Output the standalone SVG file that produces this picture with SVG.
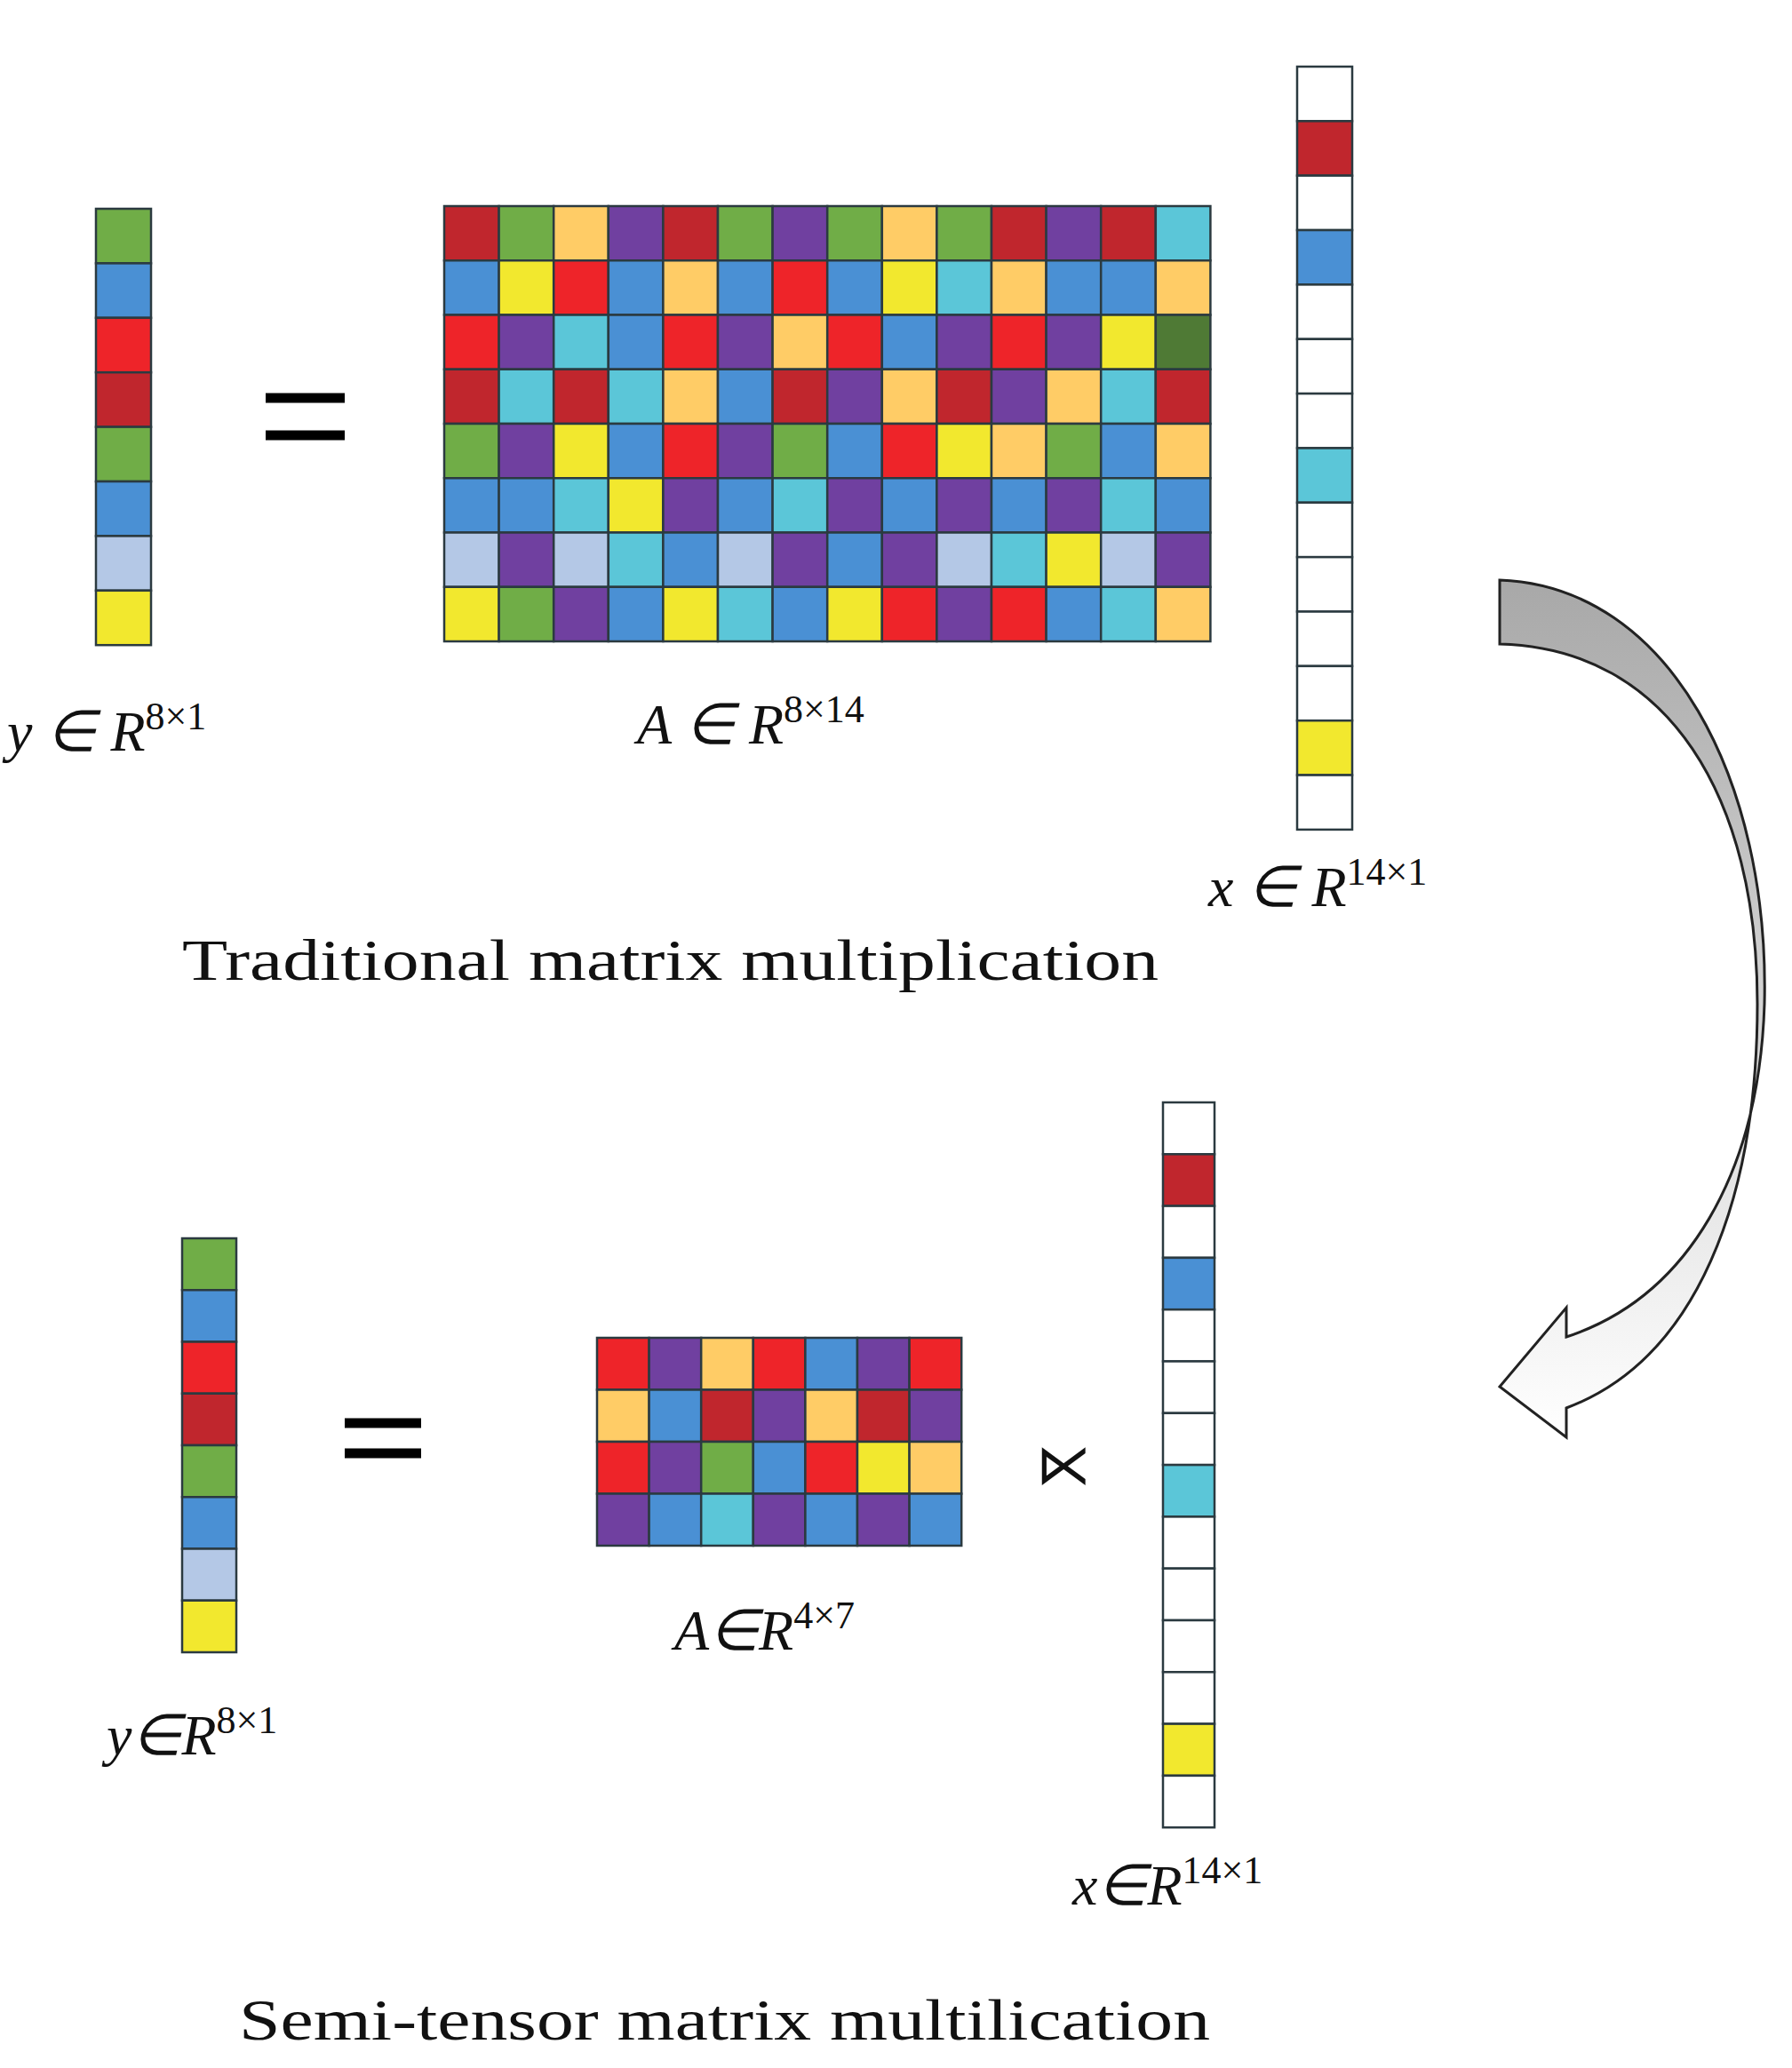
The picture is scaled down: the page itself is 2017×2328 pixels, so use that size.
<svg xmlns="http://www.w3.org/2000/svg" width="2017" height="2328" viewBox="0 0 2017 2328">
<style>
rect{stroke:#2b3a40;stroke-width:2.5}
.R{fill:#C0262D}.G{fill:#70AD47}.P{fill:#FFCC66}.U{fill:#7040A0}.r{fill:#EE2429}.B{fill:#4A90D4}.Y{fill:#F2E82E}.C{fill:#5BC6D8}.L{fill:#B4C8E6}.D{fill:#4F7A35}.W{fill:#fff}
.t{font-family:"Liberation Serif",serif;fill:#111}
.m{font-family:"Liberation Serif",serif;font-style:italic;fill:#111;font-size:64px}
.s{font-family:"Liberation Serif",serif;font-size:44px}
.eq{stroke:#000;stroke-width:11}
</style>
<defs><linearGradient id="ag" x1="0" y1="0" x2="0" y2="1"><stop offset="0" stop-color="#a8a8a8"/><stop offset="1" stop-color="#ffffff"/></linearGradient></defs>
<rect width="2017" height="2328" fill="#fff" style="stroke:none"/>
<g id="y-top">
<rect x="108" y="235" width="62" height="61.4" class="G"/><rect x="108" y="296.4" width="62" height="61.4" class="B"/><rect x="108" y="357.8" width="62" height="61.4" class="r"/><rect x="108" y="419.2" width="62" height="61.4" class="R"/><rect x="108" y="480.6" width="62" height="61.4" class="G"/><rect x="108" y="542" width="62" height="61.4" class="B"/><rect x="108" y="603.4" width="62" height="61.4" class="L"/><rect x="108" y="664.8" width="62" height="61.4" class="Y"/>
</g>
<g id="eq-top"><line x1="299" y1="448" x2="388" y2="448" class="eq"/><line x1="299" y1="490" x2="388" y2="490" class="eq"/></g>
<g id="A-top">
<g transform="translate(0,232)">
<rect x="500" width="61.6" height="61.25" class="R"/><rect x="561.6" width="61.6" height="61.25" class="G"/><rect x="623.2" width="61.6" height="61.25" class="P"/><rect x="684.8" width="61.6" height="61.25" class="U"/><rect x="746.4" width="61.6" height="61.25" class="R"/><rect x="808" width="61.6" height="61.25" class="G"/><rect x="869.6" width="61.6" height="61.25" class="U"/><rect x="931.2" width="61.6" height="61.25" class="G"/><rect x="992.8" width="61.6" height="61.25" class="P"/><rect x="1054.4" width="61.6" height="61.25" class="G"/><rect x="1116" width="61.6" height="61.25" class="R"/><rect x="1177.6" width="61.6" height="61.25" class="U"/><rect x="1239.2" width="61.6" height="61.25" class="R"/><rect x="1300.8" width="61.6" height="61.25" class="C"/></g>
<g transform="translate(0,293.25)">
<rect x="500" width="61.6" height="61.25" class="B"/><rect x="561.6" width="61.6" height="61.25" class="Y"/><rect x="623.2" width="61.6" height="61.25" class="r"/><rect x="684.8" width="61.6" height="61.25" class="B"/><rect x="746.4" width="61.6" height="61.25" class="P"/><rect x="808" width="61.6" height="61.25" class="B"/><rect x="869.6" width="61.6" height="61.25" class="r"/><rect x="931.2" width="61.6" height="61.25" class="B"/><rect x="992.8" width="61.6" height="61.25" class="Y"/><rect x="1054.4" width="61.6" height="61.25" class="C"/><rect x="1116" width="61.6" height="61.25" class="P"/><rect x="1177.6" width="61.6" height="61.25" class="B"/><rect x="1239.2" width="61.6" height="61.25" class="B"/><rect x="1300.8" width="61.6" height="61.25" class="P"/></g>
<g transform="translate(0,354.5)">
<rect x="500" width="61.6" height="61.25" class="r"/><rect x="561.6" width="61.6" height="61.25" class="U"/><rect x="623.2" width="61.6" height="61.25" class="C"/><rect x="684.8" width="61.6" height="61.25" class="B"/><rect x="746.4" width="61.6" height="61.25" class="r"/><rect x="808" width="61.6" height="61.25" class="U"/><rect x="869.6" width="61.6" height="61.25" class="P"/><rect x="931.2" width="61.6" height="61.25" class="r"/><rect x="992.8" width="61.6" height="61.25" class="B"/><rect x="1054.4" width="61.6" height="61.25" class="U"/><rect x="1116" width="61.6" height="61.25" class="r"/><rect x="1177.6" width="61.6" height="61.25" class="U"/><rect x="1239.2" width="61.6" height="61.25" class="Y"/><rect x="1300.8" width="61.6" height="61.25" class="D"/></g>
<g transform="translate(0,415.75)">
<rect x="500" width="61.6" height="61.25" class="R"/><rect x="561.6" width="61.6" height="61.25" class="C"/><rect x="623.2" width="61.6" height="61.25" class="R"/><rect x="684.8" width="61.6" height="61.25" class="C"/><rect x="746.4" width="61.6" height="61.25" class="P"/><rect x="808" width="61.6" height="61.25" class="B"/><rect x="869.6" width="61.6" height="61.25" class="R"/><rect x="931.2" width="61.6" height="61.25" class="U"/><rect x="992.8" width="61.6" height="61.25" class="P"/><rect x="1054.4" width="61.6" height="61.25" class="R"/><rect x="1116" width="61.6" height="61.25" class="U"/><rect x="1177.6" width="61.6" height="61.25" class="P"/><rect x="1239.2" width="61.6" height="61.25" class="C"/><rect x="1300.8" width="61.6" height="61.25" class="R"/></g>
<g transform="translate(0,477)">
<rect x="500" width="61.6" height="61.25" class="G"/><rect x="561.6" width="61.6" height="61.25" class="U"/><rect x="623.2" width="61.6" height="61.25" class="Y"/><rect x="684.8" width="61.6" height="61.25" class="B"/><rect x="746.4" width="61.6" height="61.25" class="r"/><rect x="808" width="61.6" height="61.25" class="U"/><rect x="869.6" width="61.6" height="61.25" class="G"/><rect x="931.2" width="61.6" height="61.25" class="B"/><rect x="992.8" width="61.6" height="61.25" class="r"/><rect x="1054.4" width="61.6" height="61.25" class="Y"/><rect x="1116" width="61.6" height="61.25" class="P"/><rect x="1177.6" width="61.6" height="61.25" class="G"/><rect x="1239.2" width="61.6" height="61.25" class="B"/><rect x="1300.8" width="61.6" height="61.25" class="P"/></g>
<g transform="translate(0,538.25)">
<rect x="500" width="61.6" height="61.25" class="B"/><rect x="561.6" width="61.6" height="61.25" class="B"/><rect x="623.2" width="61.6" height="61.25" class="C"/><rect x="684.8" width="61.6" height="61.25" class="Y"/><rect x="746.4" width="61.6" height="61.25" class="U"/><rect x="808" width="61.6" height="61.25" class="B"/><rect x="869.6" width="61.6" height="61.25" class="C"/><rect x="931.2" width="61.6" height="61.25" class="U"/><rect x="992.8" width="61.6" height="61.25" class="B"/><rect x="1054.4" width="61.6" height="61.25" class="U"/><rect x="1116" width="61.6" height="61.25" class="B"/><rect x="1177.6" width="61.6" height="61.25" class="U"/><rect x="1239.2" width="61.6" height="61.25" class="C"/><rect x="1300.8" width="61.6" height="61.25" class="B"/></g>
<g transform="translate(0,599.5)">
<rect x="500" width="61.6" height="61.25" class="L"/><rect x="561.6" width="61.6" height="61.25" class="U"/><rect x="623.2" width="61.6" height="61.25" class="L"/><rect x="684.8" width="61.6" height="61.25" class="C"/><rect x="746.4" width="61.6" height="61.25" class="B"/><rect x="808" width="61.6" height="61.25" class="L"/><rect x="869.6" width="61.6" height="61.25" class="U"/><rect x="931.2" width="61.6" height="61.25" class="B"/><rect x="992.8" width="61.6" height="61.25" class="U"/><rect x="1054.4" width="61.6" height="61.25" class="L"/><rect x="1116" width="61.6" height="61.25" class="C"/><rect x="1177.6" width="61.6" height="61.25" class="Y"/><rect x="1239.2" width="61.6" height="61.25" class="L"/><rect x="1300.8" width="61.6" height="61.25" class="U"/></g>
<g transform="translate(0,660.75)">
<rect x="500" width="61.6" height="61.25" class="Y"/><rect x="561.6" width="61.6" height="61.25" class="G"/><rect x="623.2" width="61.6" height="61.25" class="U"/><rect x="684.8" width="61.6" height="61.25" class="B"/><rect x="746.4" width="61.6" height="61.25" class="Y"/><rect x="808" width="61.6" height="61.25" class="C"/><rect x="869.6" width="61.6" height="61.25" class="B"/><rect x="931.2" width="61.6" height="61.25" class="Y"/><rect x="992.8" width="61.6" height="61.25" class="r"/><rect x="1054.4" width="61.6" height="61.25" class="U"/><rect x="1116" width="61.6" height="61.25" class="r"/><rect x="1177.6" width="61.6" height="61.25" class="B"/><rect x="1239.2" width="61.6" height="61.25" class="C"/><rect x="1300.8" width="61.6" height="61.25" class="P"/></g>
</g>
<g id="x-top">
<rect x="1460" y="75" width="62" height="61.35" class="W"/><rect x="1460" y="136.35" width="62" height="61.35" class="R"/><rect x="1460" y="197.7" width="62" height="61.35" class="W"/><rect x="1460" y="259.05" width="62" height="61.35" class="B"/><rect x="1460" y="320.4" width="62" height="61.35" class="W"/><rect x="1460" y="381.75" width="62" height="61.35" class="W"/><rect x="1460" y="443.1" width="62" height="61.35" class="W"/><rect x="1460" y="504.45" width="62" height="61.35" class="C"/><rect x="1460" y="565.8" width="62" height="61.35" class="W"/><rect x="1460" y="627.15" width="62" height="61.35" class="W"/><rect x="1460" y="688.5" width="62" height="61.35" class="W"/><rect x="1460" y="749.85" width="62" height="61.35" class="W"/><rect x="1460" y="811.2" width="62" height="61.35" class="Y"/><rect x="1460" y="872.55" width="62" height="61.35" class="W"/>
</g>
<g id="labels-top">
<text x="8" y="845" class="m">y ∈ R<tspan class="s" dy="-24" font-style="normal">8×1</tspan></text>
<text x="717" y="837" class="m">A ∈ R<tspan class="s" dy="-24" font-style="normal">8×14</tspan></text>
<text x="1360" y="1020" class="m">x ∈ R<tspan class="s" dy="-24" font-style="normal">14×1</tspan></text>
<text x="205" y="1103" class="t" font-size="66" textLength="1099" lengthAdjust="spacingAndGlyphs">Traditional matrix multiplication</text>
</g>
<g id="connectors">
<path d="M1688,653 C1880,660 1992,880 1986,1130 C1980,1320 1900,1460 1763,1505 L1763,1472 L1688,1561 L1763,1618 L1763,1585 C1910,1530 1978,1350 1978,1130 C1978,900 1880,730 1688,725 Z" fill="url(#ag)" stroke="#222" stroke-width="3" stroke-linejoin="miter"/>
</g>
<g id="y-bottom">
<rect x="205" y="1394" width="61" height="58.25" class="G"/><rect x="205" y="1452.25" width="61" height="58.25" class="B"/><rect x="205" y="1510.5" width="61" height="58.25" class="r"/><rect x="205" y="1568.75" width="61" height="58.25" class="R"/><rect x="205" y="1627" width="61" height="58.25" class="G"/><rect x="205" y="1685.25" width="61" height="58.25" class="B"/><rect x="205" y="1743.5" width="61" height="58.25" class="L"/><rect x="205" y="1801.75" width="61" height="58.25" class="Y"/>
</g>
<g id="eq-bottom"><line x1="388" y1="1602" x2="474" y2="1602" class="eq"/><line x1="388" y1="1636" x2="474" y2="1636" class="eq"/></g>
<g id="A-bottom">
<g transform="translate(0,1506)"><rect x="672" width="58.6" height="58.5" class="r"/><rect x="730.6" width="58.6" height="58.5" class="U"/><rect x="789.2" width="58.6" height="58.5" class="P"/><rect x="847.8" width="58.6" height="58.5" class="r"/><rect x="906.4" width="58.6" height="58.5" class="B"/><rect x="965" width="58.6" height="58.5" class="U"/><rect x="1023.6" width="58.6" height="58.5" class="r"/></g>
<g transform="translate(0,1564.5)"><rect x="672" width="58.6" height="58.5" class="P"/><rect x="730.6" width="58.6" height="58.5" class="B"/><rect x="789.2" width="58.6" height="58.5" class="R"/><rect x="847.8" width="58.6" height="58.5" class="U"/><rect x="906.4" width="58.6" height="58.5" class="P"/><rect x="965" width="58.6" height="58.5" class="R"/><rect x="1023.6" width="58.6" height="58.5" class="U"/></g>
<g transform="translate(0,1623)"><rect x="672" width="58.6" height="58.5" class="r"/><rect x="730.6" width="58.6" height="58.5" class="U"/><rect x="789.2" width="58.6" height="58.5" class="G"/><rect x="847.8" width="58.6" height="58.5" class="B"/><rect x="906.4" width="58.6" height="58.5" class="r"/><rect x="965" width="58.6" height="58.5" class="Y"/><rect x="1023.6" width="58.6" height="58.5" class="P"/></g>
<g transform="translate(0,1681.5)"><rect x="672" width="58.6" height="58.5" class="U"/><rect x="730.6" width="58.6" height="58.5" class="B"/><rect x="789.2" width="58.6" height="58.5" class="C"/><rect x="847.8" width="58.6" height="58.5" class="U"/><rect x="906.4" width="58.6" height="58.5" class="B"/><rect x="965" width="58.6" height="58.5" class="U"/><rect x="1023.6" width="58.6" height="58.5" class="B"/></g>
</g>
<g id="stp-op"><text x="1197" y="1670" font-family="DejaVu Sans,sans-serif" font-size="62" text-anchor="middle" fill="#111">⋉</text></g>
<g id="x-bottom">
<rect x="1309" y="1241" width="58" height="58.3" class="W"/><rect x="1309" y="1299.3" width="58" height="58.3" class="R"/><rect x="1309" y="1357.6" width="58" height="58.3" class="W"/><rect x="1309" y="1415.9" width="58" height="58.3" class="B"/><rect x="1309" y="1474.2" width="58" height="58.3" class="W"/><rect x="1309" y="1532.5" width="58" height="58.3" class="W"/><rect x="1309" y="1590.8" width="58" height="58.3" class="W"/><rect x="1309" y="1649.1" width="58" height="58.3" class="C"/><rect x="1309" y="1707.4" width="58" height="58.3" class="W"/><rect x="1309" y="1765.7" width="58" height="58.3" class="W"/><rect x="1309" y="1824" width="58" height="58.3" class="W"/><rect x="1309" y="1882.3" width="58" height="58.3" class="W"/><rect x="1309" y="1940.6" width="58" height="58.3" class="Y"/><rect x="1309" y="1998.9" width="58" height="58.3" class="W"/>
</g>
<g id="labels-bottom">
<text x="120" y="1975" class="m">y∈R<tspan class="s" dy="-24" font-style="normal">8×1</tspan></text>
<text x="759" y="1857" class="m">A∈R<tspan class="s" dy="-24" font-style="normal">4×7</tspan></text>
<text x="1207" y="2144" class="m">x∈R<tspan class="s" dy="-24" font-style="normal">14×1</tspan></text>
<text x="269" y="2296" class="t" font-size="66" textLength="1093" lengthAdjust="spacingAndGlyphs">Semi-tensor matrix multilication</text>
</g>
</svg>
